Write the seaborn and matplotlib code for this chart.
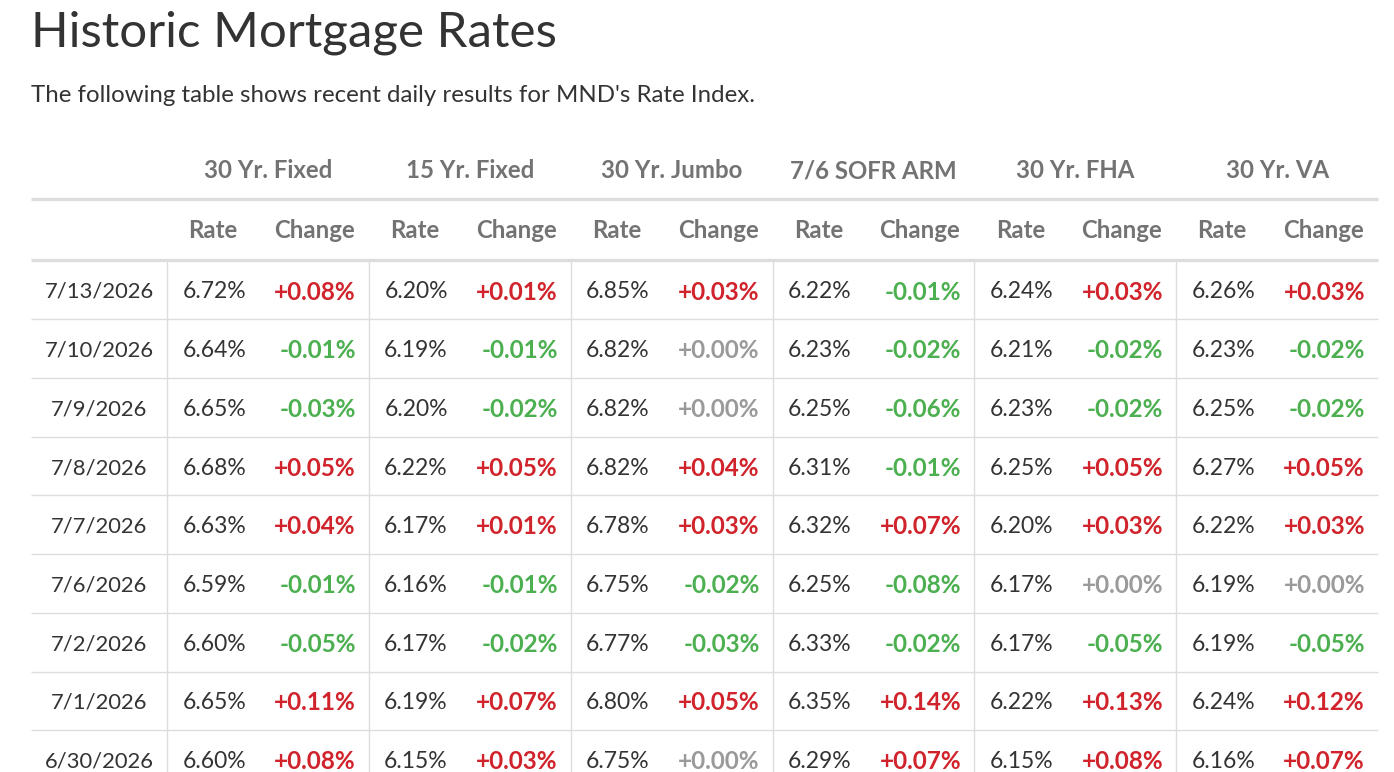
import matplotlib
matplotlib.use('Agg')
import matplotlib.pyplot as plt
import seaborn as sns

# table data
dates = ['7/13/2026', '7/10/2026', '7/9/2026', '7/8/2026', '7/7/2026',
         '7/6/2026', '7/2/2026', '7/1/2026', '6/30/2026']
products = ['30 Yr. Fixed', '15 Yr. Fixed', '30 Yr. Jumbo', '7/6 SOFR ARM',
            '30 Yr. FHA', '30 Yr. VA']

fixed30_rate = [6.72, 6.64, 6.65, 6.68, 6.63, 6.59, 6.60, 6.65, 6.60]
fixed30_chg = [0.08, -0.01, -0.03, 0.05, 0.04, -0.01, -0.05, 0.11, 0.08]
fixed15_rate = [6.20, 6.19, 6.20, 6.22, 6.17, 6.16, 6.17, 6.19, 6.15]
fixed15_chg = [0.01, -0.01, -0.02, 0.05, 0.01, -0.01, -0.02, 0.07, 0.03]
jumbo_rate = [6.85, 6.82, 6.82, 6.82, 6.78, 6.75, 6.77, 6.80, 6.75]
jumbo_chg = [0.03, 0.00, 0.00, 0.04, 0.03, -0.02, -0.03, 0.05, 0.00]
arm_rate = [6.22, 6.23, 6.25, 6.31, 6.32, 6.25, 6.33, 6.35, 6.29]
arm_chg = [-0.01, -0.02, -0.06, -0.01, 0.07, -0.08, -0.02, 0.14, 0.07]
fha_rate = [6.24, 6.21, 6.23, 6.25, 6.20, 6.17, 6.17, 6.22, 6.15]
fha_chg = [0.03, -0.02, -0.02, 0.05, 0.03, 0.00, -0.05, 0.13, 0.08]
va_rate = [6.26, 6.23, 6.25, 6.27, 6.22, 6.19, 6.19, 6.24, 6.16]
va_chg = [0.03, -0.02, -0.02, 0.05, 0.03, 0.00, -0.05, 0.12, 0.07]

rates = [fixed30_rate, fixed15_rate, jumbo_rate, arm_rate, fha_rate, va_rate]
changes = [fixed30_chg, fixed15_chg, jumbo_chg, arm_chg, fha_chg, va_chg]

sns.set_theme(style='white')
plt.rcParams['font.family'] = ['Lato', 'DejaVu Sans']

fig = plt.figure(figsize=(13.94, 7.72), dpi=100)
ax = fig.add_axes([0, 0, 1, 1])
ax.set_xlim(0, 1394)
ax.set_ylim(772, 0)
ax.axis('off')

dark = '#333333'
head = '#737373'
line = '#dddddd'
red = '#d0232b'
green = '#4caf50'
grey = '#9a9a9a'

ax.text(31, 33, 'Historic Mortgage Rates', fontsize=35.5, color=dark,
        ha='left', va='center')
ax.text(31, 96, "The following table shows recent daily results for MND's Rate Index.",
        fontsize=17.3, color=dark, ha='left', va='center')

left, right = 31, 1378
date_w = 136
grp_w = (right - left - date_w) / len(products)
row0, row_h = 292, 58.7

# header lines
ax.hlines([199, 260], left, right, color=line, lw=2.4)
# body lines
for i in range(len(dates) - 1):
    ax.hlines(row0 - 2 + row_h * (i + 0.5), left, right, color=line, lw=1)
for g in range(len(products)):
    x0 = left + date_w + g * grp_w
    ax.vlines(x0, 260, 772, color=line, lw=1)

for g, name in enumerate(products):
    x0 = left + date_w + g * grp_w
    ax.text(x0 + grp_w / 2, 171, name, fontsize=17.3, fontweight='bold',
            color=head, ha='center', va='center')
    ax.text(x0 + 46, 231, 'Rate', fontsize=17.3, fontweight='bold',
            color=head, ha='center', va='center')
    ax.text(x0 + grp_w - 14, 231, 'Change', fontsize=17.3, fontweight='bold',
            color=head, ha='right', va='center')
    for i in range(len(dates)):
        y = row0 + row_h * i
        ax.text(x0 + 79, y, f'{rates[g][i]:.2f}%', fontsize=16.5, color=dark,
                ha='right', va='center')
        c = changes[g][i]
        col = red if c > 0 else (green if c < 0 else grey)
        ax.text(x0 + grp_w - 13, y, f'{c:+.2f}%', fontsize=17.5,
                fontweight='bold', color=col, ha='right', va='center')

for i, d in enumerate(dates):
    ax.text(left + date_w / 2, row0 + row_h * i, d, fontsize=15.8, color=dark,
            ha='center', va='center')

fig.savefig('out.png', dpi=100, facecolor='white')
